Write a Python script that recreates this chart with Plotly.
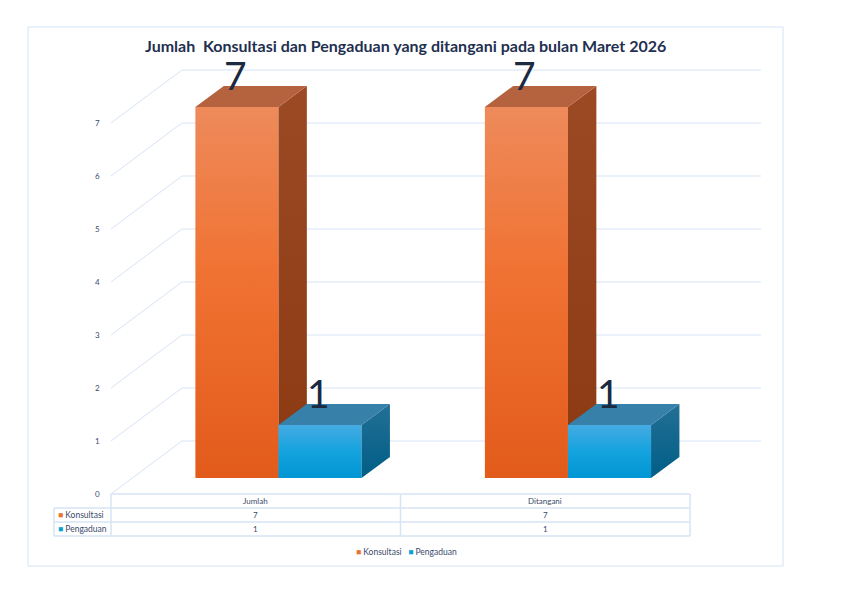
import plotly.graph_objects as go

# data
categories = ["Jumlah", "Ditangani"]
series_names = ["Konsultasi", "Pengaduan"]
konsultasi = [7, 7]
pengaduan = [1, 1]
y_ticks = [0, 1, 2, 3, 4, 5, 6, 7]

# fake 3D geometry (category units on x, value units on y)
DX, DY = 0.245, 1.0        # full floor depth offset
D0, D1 = 0.3, 0.7          # depth span of the bars
GAP, BW = 0.218, 0.287     # gap before first bar, bar width
ROW = 0.264                # data table row height

front_cols = {
    "Konsultasi": [[0, "#E25B1B"], [0.55, "#F07232"], [1, "#EE8A5B"]],
    "Pengaduan": [[0, "#0095D3"], [0.5, "#14A3DF"], [1, "#45ABE2"]],
}
side_cols = {
    "Konsultasi": [[0, "#8A3911"], [1, "#9C4A24"]],
    "Pengaduan": [[0, "#005E86"], [1, "#236F96"]],
}
top_cols = {"Konsultasi": "#B5623E", "Pengaduan": "#3680AA"}
key_cols = {"Konsultasi": "#E97132", "Pengaduan": "#0F9ED5"}
text_col = "#3B4A6B"
grid_col = "#D6E4F5"

fig = go.Figure()

# back wall + left wall gridlines
gx, gy = [], []
for t in y_ticks:
    gx += [0, DX, len(categories) + DX, None]
    gy += [t, t + DY, t + DY, None]
fig.add_trace(go.Scatter(x=gx, y=gy, mode="lines", line=dict(color=grid_col, width=1),
                         hoverinfo="skip", showlegend=False))


def face(xs, ys, colorscale=None, color=None):
    tr = go.Scatter(x=xs + [xs[0]], y=ys + [ys[0]], mode="none", fill="toself",
                    hoverinfo="skip", showlegend=False)
    if colorscale:
        tr.fillgradient = dict(type="vertical", colorscale=colorscale)
    else:
        tr.fillcolor = color
    return tr


values = {"Konsultasi": konsultasi, "Pengaduan": pengaduan}
annotations = []
for ci, cat in enumerate(categories):
    for si, name in enumerate(series_names):
        h = values[name][ci]
        x0 = ci + GAP + si * BW
        xl, xr = x0 + DX * D0, x0 + BW + DX * D0
        xlb, xrb = x0 + DX * D1, x0 + BW + DX * D1
        yb, ybb = DY * D0, DY * D1
        fig.add_trace(face([xl, xr, xr, xl], [yb, yb, h + yb, h + yb], colorscale=front_cols[name]))
        fig.add_trace(face([xr, xrb, xrb, xr], [yb, ybb, h + ybb, h + yb], colorscale=side_cols[name]))
        fig.add_trace(face([xl, xr, xrb, xlb], [h + yb, h + yb, h + ybb, h + ybb], color=top_cols[name]))
        annotations.append(dict(x=(xl + xr) / 2 - 0.005, y=h + yb + 0.14, text=str(h), showarrow=False,
                                yanchor="bottom", font=dict(family="Lato", size=39, color="#1B2A41")))

# y tick labels
for t in y_ticks:
    annotations.append(dict(x=-0.03, y=t, text=str(t), showarrow=False, xanchor="right",
                            font=dict(family="Lato", size=8, color=text_col)))

# data table
shapes = []
lw = dict(color=grid_col, width=1.5)
left = -0.197
ncat = len(categories)
shapes.append(dict(type="line", x0=0, x1=ncat, y0=0, y1=0, line=lw))
for r in range(1, len(series_names) + 2):
    shapes.append(dict(type="line", x0=left, x1=ncat, y0=-r * ROW, y1=-r * ROW, line=lw))
shapes.append(dict(type="line", x0=left, x1=left, y0=-ROW, y1=-3 * ROW, line=lw))
for c in range(ncat + 1):
    shapes.append(dict(type="line", x0=c, x1=c, y0=0, y1=-3 * ROW, line=lw))

for ci, cat in enumerate(categories):
    annotations.append(dict(x=ci + 0.5, y=-0.5 * ROW, text=cat, showarrow=False,
                            font=dict(family="Lato", size=8, color=text_col)))
    for si, name in enumerate(series_names):
        annotations.append(dict(x=ci + 0.5, y=-(si + 1.5) * ROW, text=str(values[name][ci]),
                                showarrow=False, font=dict(family="Lato", size=8, color=text_col)))
for si, name in enumerate(series_names):
    annotations.append(dict(x=left + 0.008, y=-(si + 1.5) * ROW, xanchor="left", showarrow=False,
                            text=f"<span style='color:{key_cols[name]}'>■</span> {name}",
                            font=dict(family="Lato", size=8.5, color=text_col)))

# bottom legend
legend_text = "   ".join(f"<span style='color:{key_cols[n]}'>■</span> {n}" for n in series_names)
annotations.append(dict(x=1.022, y=-1.094, text=legend_text, showarrow=False,
                        font=dict(family="Lato", size=8.5, color=text_col)))

# title
annotations.append(dict(xref="paper", yref="paper", x=405.5 / 842, y=1 - 46 / 595,
                        text="<b>Jumlah\u00a0 Konsultasi dan Pengaduan yang ditangani pada bulan Maret 2026</b>",
                        showarrow=False, yanchor="middle",
                        font=dict(family="Lato", size=16, color="#1F3050")))

# chart frame
shapes.append(dict(type="rect", xref="paper", yref="paper", x0=28 / 842, x1=783 / 842,
                   y0=1 - 566 / 595, y1=1 - 27 / 595, line=dict(color="#D3E2F3", width=1)))

fig.update_layout(
    width=842, height=595, autosize=False,
    margin=dict(l=0, r=0, t=0, b=0),
    plot_bgcolor="white", paper_bgcolor="white",
    xaxis=dict(range=[-111 / 289.5, (842 - 111) / 289.5], visible=False, fixedrange=True),
    yaxis=dict(range=[-101 / 53, 494 / 53], visible=False, fixedrange=True),
    shapes=shapes, annotations=annotations, showlegend=False,
)

fig.write_html("out.html", config={"displayModeBar": False},
               post_script="document.body.style.margin='0';")
